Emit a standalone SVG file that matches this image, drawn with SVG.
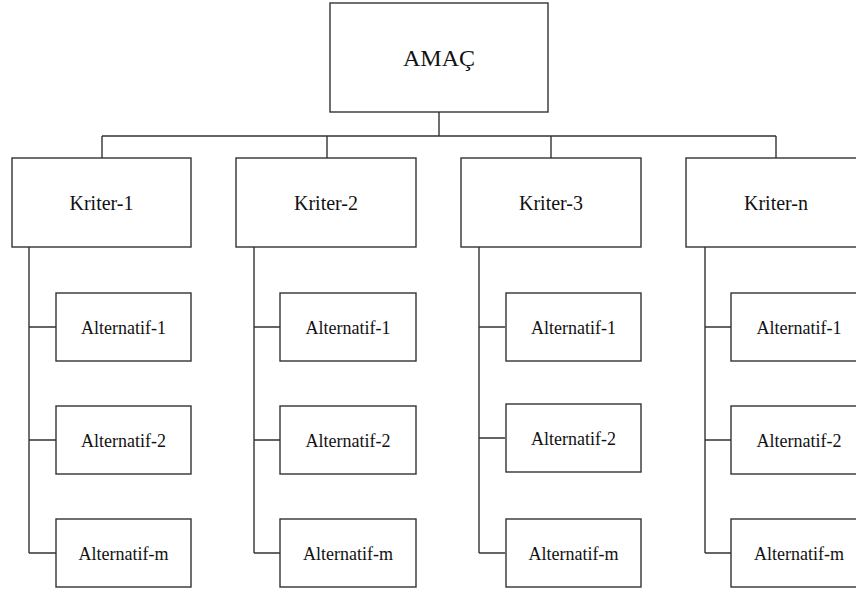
<svg xmlns="http://www.w3.org/2000/svg" width="856" height="593" viewBox="0 0 856 593">
<style>
.box{fill:#fff;stroke:#333;stroke-width:1.4}
.ln{fill:none;stroke:#333;stroke-width:1.4}
.tx{fill:#111;text-anchor:middle}
.t1{font-size:24px}
.t2{font-size:20px}
.t3{font-size:18px}
</style>
<rect width="856" height="593" fill="#fff"/>
<g id="connectors" class="ln">
<path d="M439 112V136M102 136H776M102 136V158M327 136V158M551 136V158M776 136V158"/>
<path d="M29 247V553M29 327H56M29 440H56M29 553H56"/>
<path d="M254 247V553M254 327H280M254 440H280M254 553H280"/>
<path d="M479 247V553M479 327H505M479 438H505M479 553H505"/>
<path d="M705 247V553M705 327H731M705 440H731M705 553H731"/>
</g>
<g font-family="'Liberation Serif', 'DejaVu Serif', serif">
<g id="amac"><rect class="box" x="330" y="3" width="218" height="109"/><text class="tx t1" x="439" y="66">AMAÇ</text></g>
<g id="kriter-1"><rect class="box" x="12" y="158" width="179" height="89"/><text class="tx t2" x="101.5" y="210">Kriter-1</text></g>
<g id="kriter-2"><rect class="box" x="236" y="158" width="180" height="89"/><text class="tx t2" x="326" y="210">Kriter-2</text></g>
<g id="kriter-3"><rect class="box" x="461" y="158" width="180" height="89"/><text class="tx t2" x="551" y="210">Kriter-3</text></g>
<g id="kriter-n"><rect class="box" x="686" y="158" width="180" height="89"/><text class="tx t2" x="776" y="210">Kriter-n</text></g>
<g id="k1-a1"><rect class="box" x="56" y="293" width="135" height="68"/><text class="tx t3" x="123.5" y="333.5">Alternatif-1</text></g>
<g id="k1-a2"><rect class="box" x="56" y="406" width="135" height="68"/><text class="tx t3" x="123.5" y="446.5">Alternatif-2</text></g>
<g id="k1-am"><rect class="box" x="56" y="519" width="135" height="68"/><text class="tx t3" x="123.5" y="559.5">Alternatif-m</text></g>
<g id="k2-a1"><rect class="box" x="280" y="293" width="136" height="68"/><text class="tx t3" x="348" y="333.5">Alternatif-1</text></g>
<g id="k2-a2"><rect class="box" x="280" y="406" width="136" height="68"/><text class="tx t3" x="348" y="446.5">Alternatif-2</text></g>
<g id="k2-am"><rect class="box" x="280" y="519" width="136" height="68"/><text class="tx t3" x="348" y="559.5">Alternatif-m</text></g>
<g id="k3-a1"><rect class="box" x="506" y="293" width="135" height="68"/><text class="tx t3" x="573.5" y="333.5">Alternatif-1</text></g>
<g id="k3-a2"><rect class="box" x="506" y="404" width="135" height="68"/><text class="tx t3" x="573.5" y="444.5">Alternatif-2</text></g>
<g id="k3-am"><rect class="box" x="506" y="519" width="135" height="68"/><text class="tx t3" x="573.5" y="559.5">Alternatif-m</text></g>
<g id="kn-a1"><rect class="box" x="731" y="293" width="136" height="68"/><text class="tx t3" x="799" y="333.5">Alternatif-1</text></g>
<g id="kn-a2"><rect class="box" x="731" y="406" width="136" height="68"/><text class="tx t3" x="799" y="446.5">Alternatif-2</text></g>
<g id="kn-am"><rect class="box" x="731" y="519" width="136" height="68"/><text class="tx t3" x="799" y="559.5">Alternatif-m</text></g>
</g>
</svg>
